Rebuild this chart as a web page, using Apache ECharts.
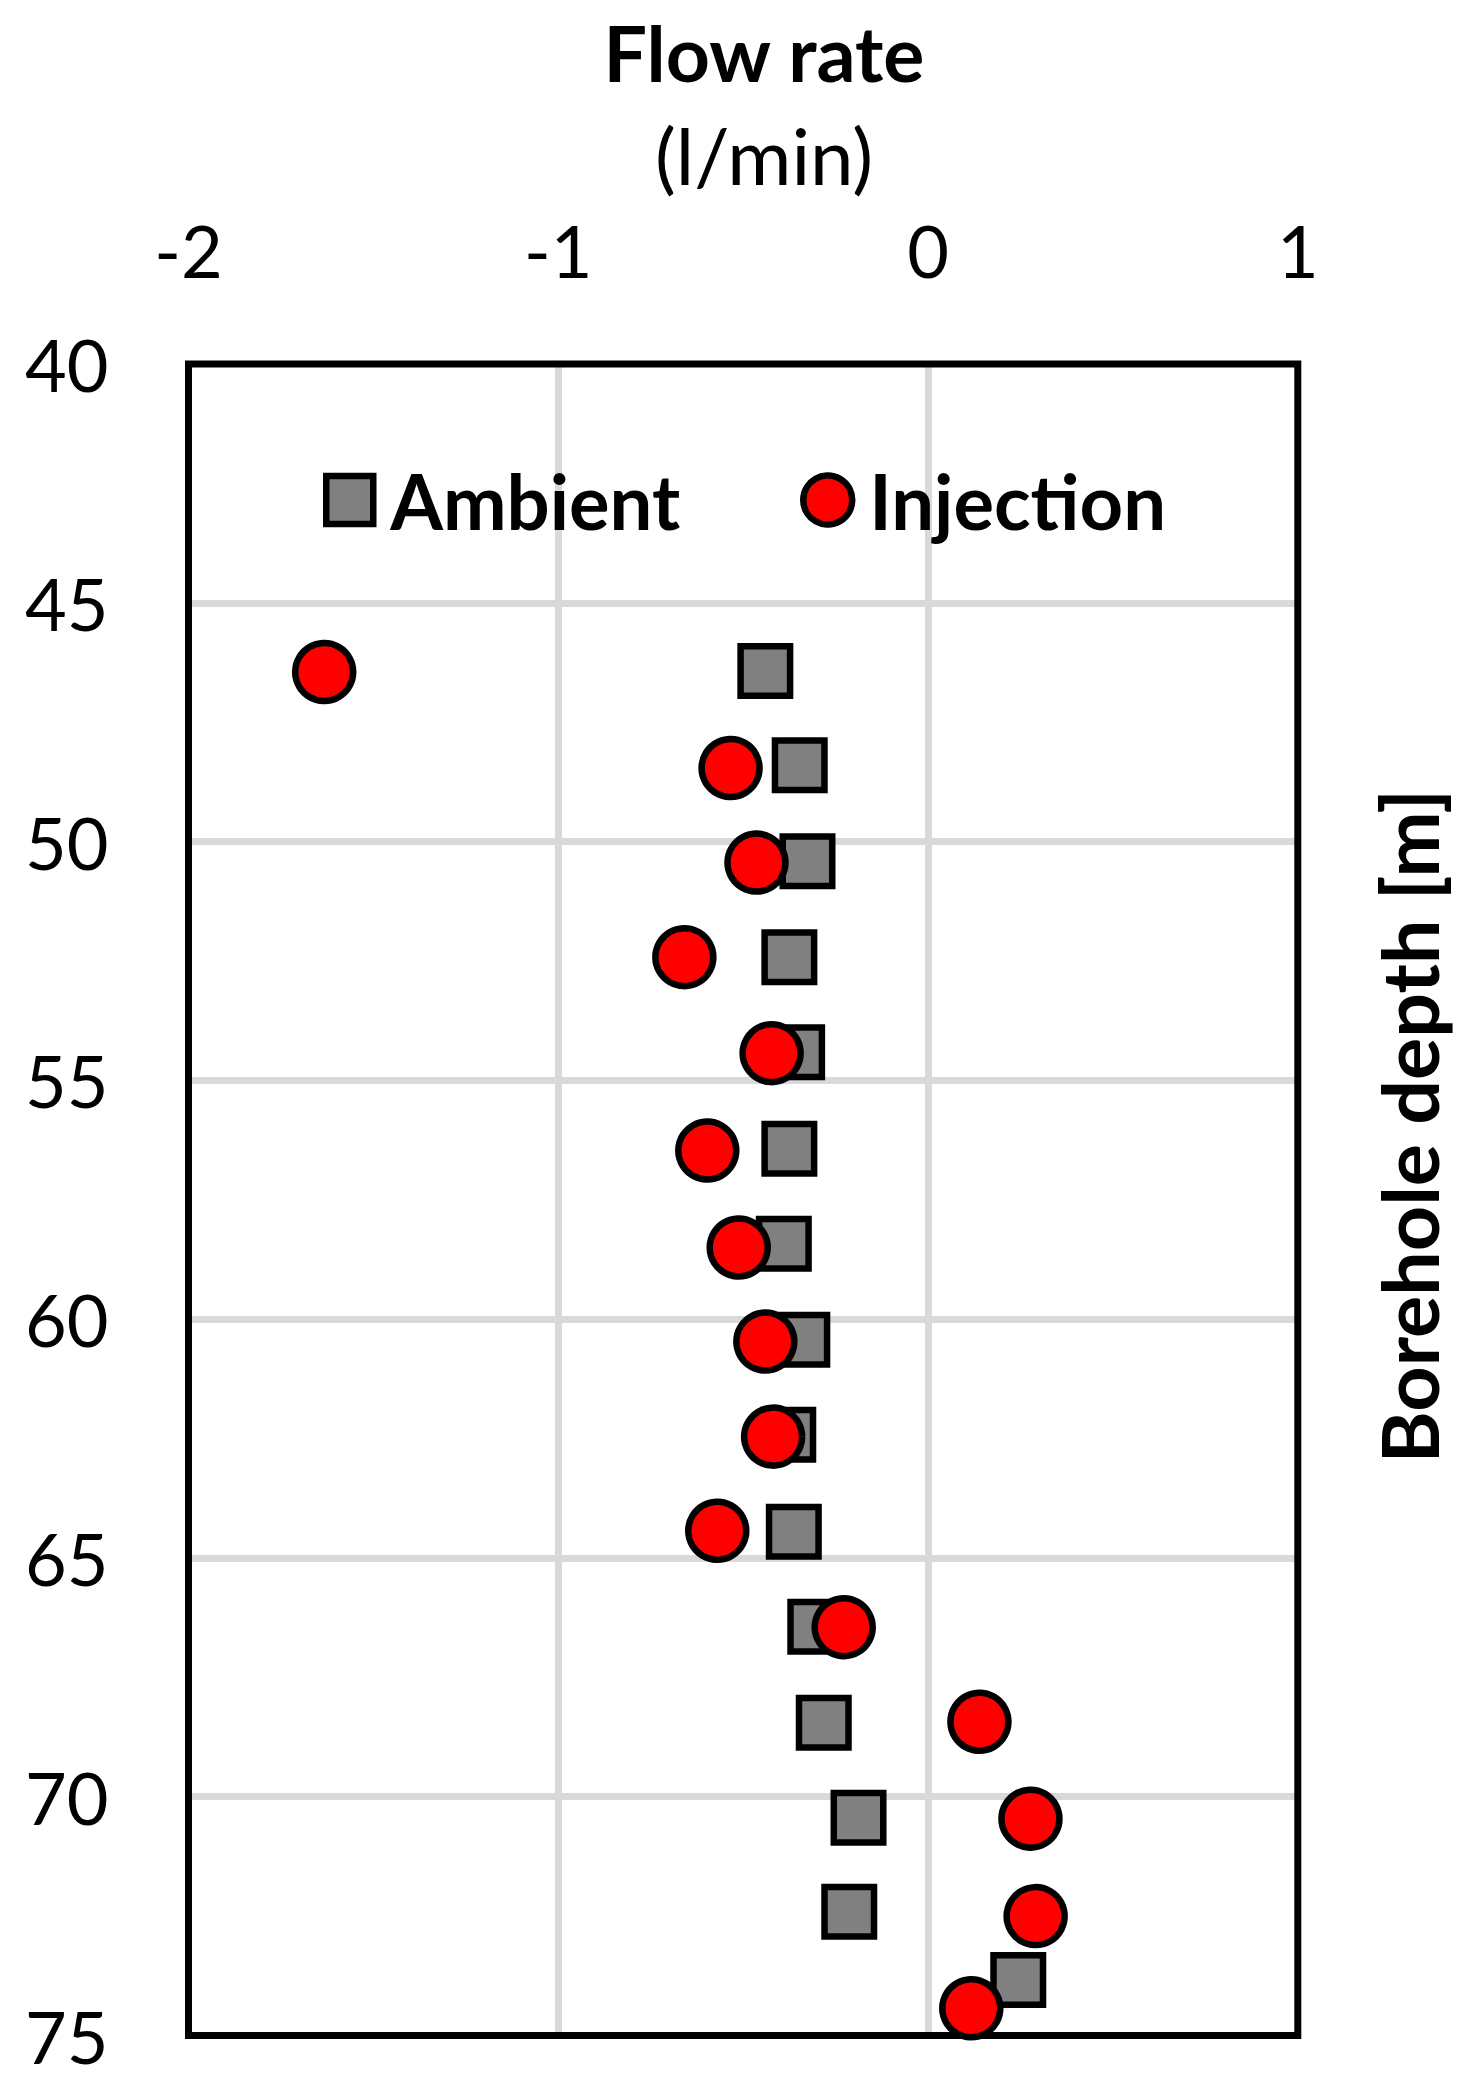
<!DOCTYPE html>
<html>
<head>
<meta charset="utf-8">
<script src="https://cdn.jsdelivr.net/npm/echarts@6/dist/echarts.min.js"></script>
<style>
html,body{margin:0;padding:0;background:#ffffff;}
#chart{width:1480px;height:2086px;}
</style>
</head>
<body>
<div id="chart"></div>
<script>
// ---- Data ----
const ambientDepth   = [46.43, 48.40, 50.41, 52.42, 54.41, 56.43, 58.42, 60.43, 62.42, 64.45, 66.44, 68.45, 70.44, 72.41, 73.84];
const ambientFlow    = [-0.440, -0.347, -0.326, -0.375, -0.354, -0.375, -0.390, -0.340, -0.378, -0.363, -0.305, -0.282, -0.188, -0.213, 0.244];
const injectionDepth = [46.45, 48.46, 50.44, 52.42, 54.43, 56.47, 58.50, 60.47, 62.46, 64.43, 66.45, 68.43, 70.46, 72.50, 74.43];
const injectionFlow  = [-1.633, -0.534, -0.464, -0.659, -0.423, -0.597, -0.512, -0.440, -0.419, -0.570, -0.228, 0.139, 0.277, 0.291, 0.117];
const xTicks = [-2, -1, 0, 1];
const yTicks = [40, 45, 50, 55, 60, 65, 70, 75];
const seriesNames = ['Ambient', 'Injection'];
const xTitle = 'Flow rate';
const xUnit = '(l/min)';
const yTitle = 'Borehole depth [m]';

const FONT = 'Lato, "Open Sans", "Noto Sans", sans-serif';

const ambientData = ambientDepth.map((d, i) => [ambientFlow[i], d]);
const injectionData = injectionDepth.map((d, i) => [injectionFlow[i], d]);

const chart = echarts.init(document.getElementById('chart'), null, {renderer: 'svg'});

const option = {
  backgroundColor: '#ffffff',
  animation: false,
  grid: {
    left: 188.5, top: 364, width: 1109.3, height: 1671.5,
    show: true, z: 1,
    borderColor: '#000000', borderWidth: 7, backgroundColor: 'transparent'
  },
  xAxis: {
    type: 'value', position: 'top',
    min: xTicks[0], max: xTicks[xTicks.length - 1], interval: xTicks[1] - xTicks[0],
    axisLine: {show: false}, axisTick: {show: false},
    axisLabel: {fontFamily: FONT, fontSize: 72, color: '#000', margin: 78, lineHeight: 72},
    splitLine: {show: true, showMinLine: false, showMaxLine: false, lineStyle: {color: '#d9d9d9', width: 7}}
  },
  yAxis: {
    type: 'value', inverse: true,
    min: yTicks[0], max: yTicks[yTicks.length - 1], interval: yTicks[1] - yTicks[0],
    axisLine: {show: false}, axisTick: {show: false},
    axisLabel: {fontFamily: FONT, fontSize: 72, color: '#000', margin: 80, padding: [0, 0, 8, 0]},
    splitLine: {show: true, showMinLine: false, showMaxLine: false, lineStyle: {color: '#d9d9d9', width: 7}}
  },
  legend: [
    {
      data: [{name: seriesNames[0], icon: 'rect'}],
      left: 323, top: 462, padding: 0,
      itemWidth: 47, itemHeight: 48,
      itemStyle: {borderColor: '#000', borderWidth: 6.5},
      textStyle: {fontFamily: FONT, fontSize: 76, fontWeight: 'bold', color: '#000', padding: [0, 0, 0, 12]}
    },
    {
      data: [{name: seriesNames[1], icon: 'circle'}],
      left: 800, top: 462, padding: 0,
      itemWidth: 49, itemHeight: 49,
      itemStyle: {borderColor: '#000', borderWidth: 6.5},
      textStyle: {fontFamily: FONT, fontSize: 76, fontWeight: 'bold', color: '#000', padding: [0, 0, 0, 12]}
    }
  ],
  series: [
    {
      name: seriesNames[0], type: 'scatter', symbol: 'rect', symbolSize: 49.5,
      data: ambientData, z: 3,
      itemStyle: {color: '#808080', borderColor: '#000000', borderWidth: 6.5, opacity: 1}
    },
    {
      name: seriesNames[1], type: 'scatter', symbol: 'circle', symbolSize: 58,
      data: injectionData, z: 4,
      itemStyle: {color: '#ff0000', borderColor: '#000000', borderWidth: 6.5, opacity: 1}
    }
  ],
  graphic: [
    {type: 'text', x: 764, y: 52, style: {text: xTitle, font: 'bold 77px ' + FONT, fill: '#000', align: 'center', verticalAlign: 'middle'}},
    {type: 'text', x: 764, y: 155, style: {text: xUnit, font: '78px ' + FONT, fill: '#000', align: 'center', verticalAlign: 'middle'}},
    {type: 'text', x: 1408, y: 1126, rotation: Math.PI / 2, style: {text: yTitle, font: 'bold 79px ' + FONT, fill: '#000', align: 'center', verticalAlign: 'middle'}}
  ]
};
chart.setOption(option);
</script>
</body>
</html>
